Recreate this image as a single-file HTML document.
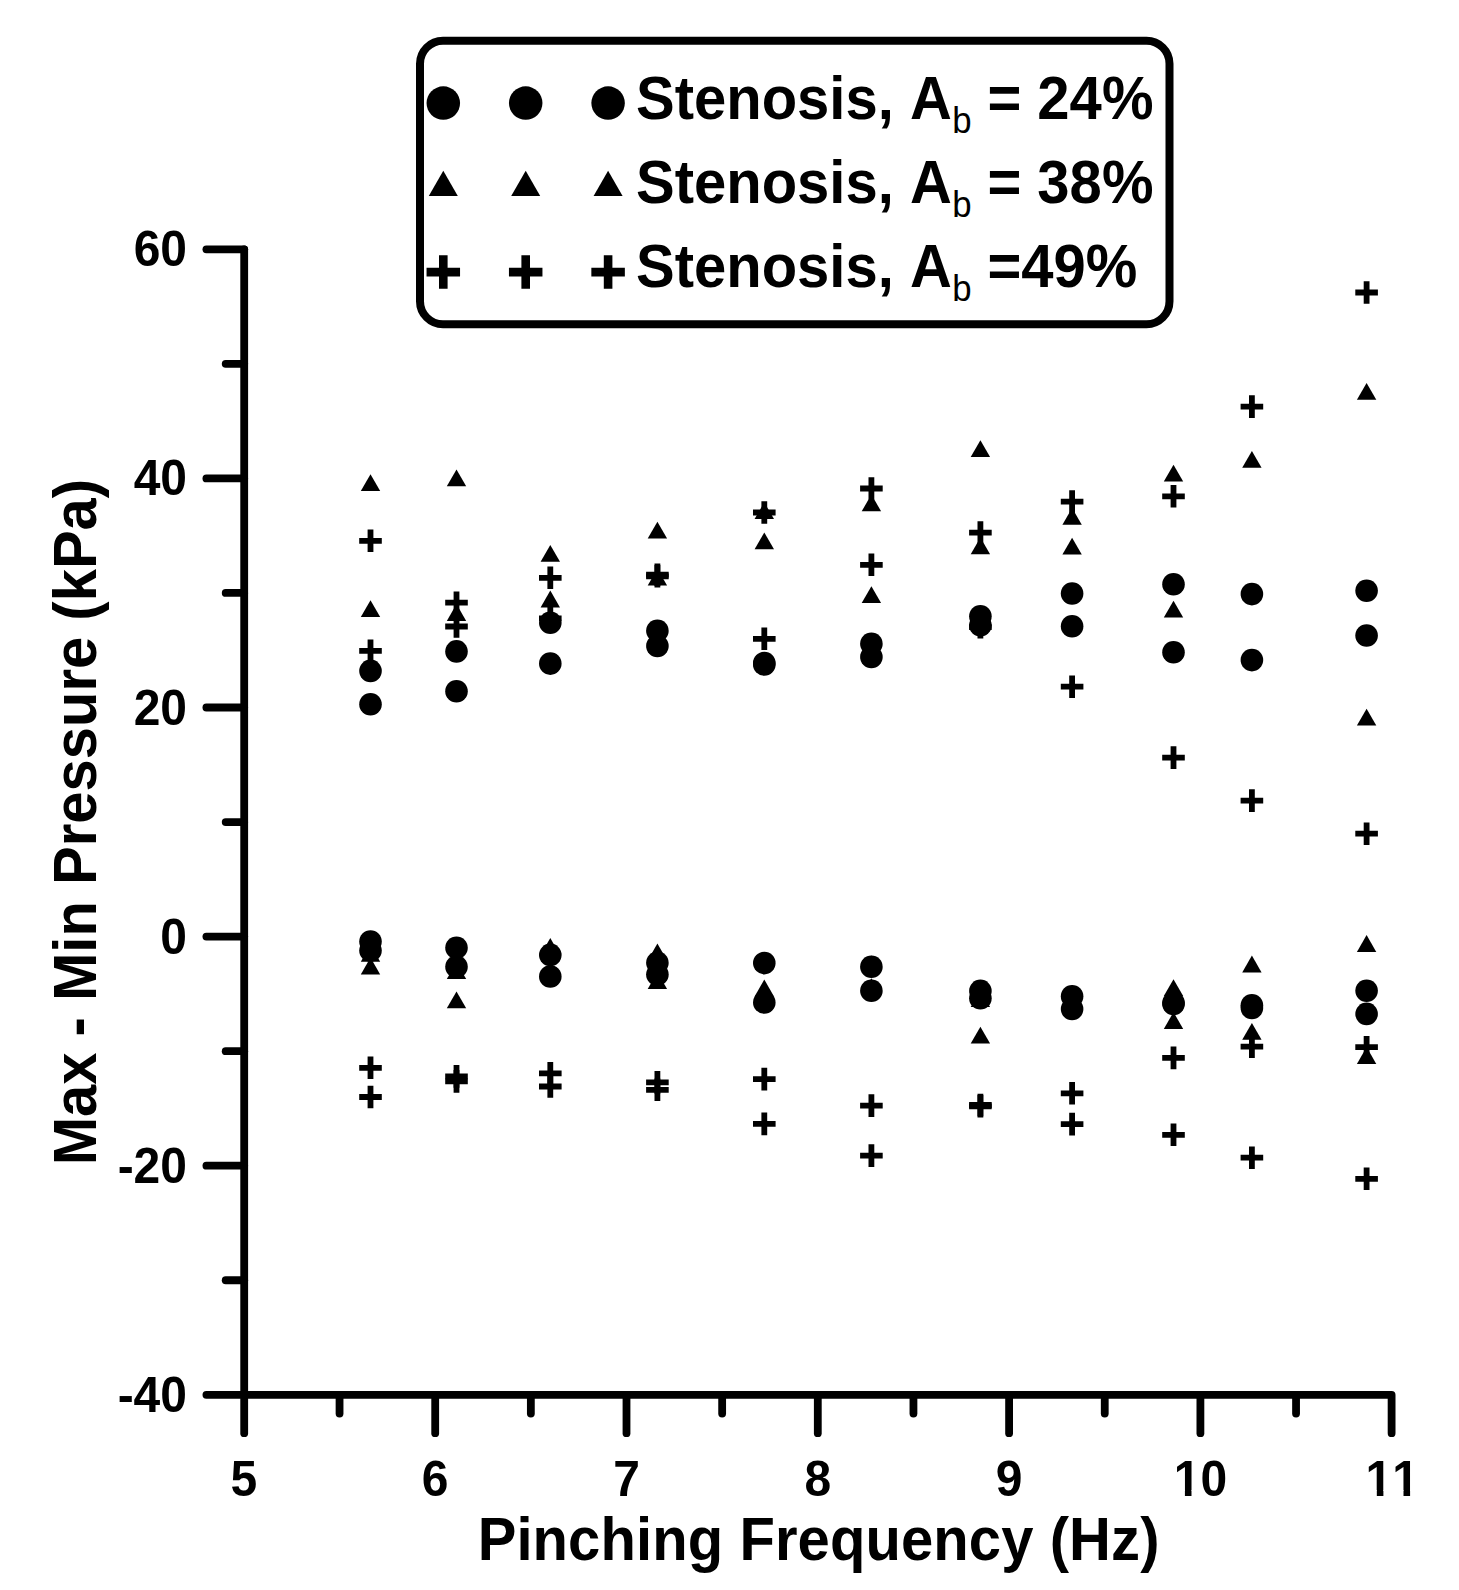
<!DOCTYPE html>
<html lang="en">
<head>
<meta charset="utf-8">
<title>Max - Min Pressure vs Pinching Frequency</title>
<style>
html,body{margin:0;padding:0;background:#fff;}
body{width:1459px;height:1590px;overflow:hidden;}
svg{display:block;}
text{font-family:"Liberation Sans",Arial,Helvetica,sans-serif;font-weight:bold;fill:#000;font-kerning:none;}
.tk{font-size:48px;}
.lb{font-size:58px;}
.sub{font-size:34.8px;font-weight:normal;}
</style>
</head>
<body>
<svg width="1459" height="1590" viewBox="0 0 1459 1590">
<rect x="0" y="0" width="1459" height="1590" fill="#fff"/>
<g stroke="#000" stroke-width="7.8" fill="none" stroke-linecap="round" stroke-linejoin="round">
<path d="M244.2 249.3V1433.2"/>
<path d="M206.4 1394.8H1391.6 V1433.2"/>
<path d="M206.4 249.3H244.2"/>
<path d="M206.4 478.4H244.2"/>
<path d="M206.4 707.5H244.2"/>
<path d="M206.4 936.6H244.2"/>
<path d="M206.4 1165.7H244.2"/>
<path d="M225.7 363.85H244.2"/>
<path d="M225.7 592.95H244.2"/>
<path d="M225.7 822.05H244.2"/>
<path d="M225.7 1051.15H244.2"/>
<path d="M225.7 1280.25H244.2"/>
<path d="M435.2 1394.8V1433.2"/>
<path d="M626.5 1394.8V1433.2"/>
<path d="M817.8 1394.8V1433.2"/>
<path d="M1009.1 1394.8V1433.2"/>
<path d="M1200.4 1394.8V1433.2"/>
<path d="M339.55 1394.8V1413.6"/>
<path d="M530.85 1394.8V1413.6"/>
<path d="M722.15 1394.8V1413.6"/>
<path d="M913.45 1394.8V1413.6"/>
<path d="M1104.75 1394.8V1413.6"/>
<path d="M1296.05 1394.8V1413.6"/>
</g>
<g class="tk" text-anchor="end">
<text transform="translate(187 266.3) scale(1 1.035)">60</text>
<text transform="translate(187 495.4) scale(1 1.035)">40</text>
<text transform="translate(187 724.5) scale(1 1.035)">20</text>
<text transform="translate(187 953.6) scale(1 1.035)">0</text>
<text transform="translate(187 1182.7) scale(1 1.035)">-20</text>
<text transform="translate(187 1411.8) scale(1 1.035)">-40</text>
</g>
<g class="tk" text-anchor="middle">
<text transform="translate(243.9 1495.6) scale(1 1.035)">5</text>
<text transform="translate(435.2 1495.6) scale(1 1.035)">6</text>
<text transform="translate(626.5 1495.6) scale(1 1.035)">7</text>
<text transform="translate(817.8 1495.6) scale(1 1.035)">8</text>
<text transform="translate(1009.1 1495.6) scale(1 1.035)">9</text>
<text transform="translate(1200.4 1495.6) scale(1 1.035)">10</text>
<text transform="translate(1392.3 1495.6) scale(1 1.035)">11</text>
</g>
<rect x="1175.53" y="1490.13" width="9.38" height="7.5" fill="#fff"/>
<rect x="1191.49" y="1490.13" width="8.77" height="7.5" fill="#fff"/>
<rect x="1367.43" y="1490.13" width="9.38" height="7.5" fill="#fff"/>
<rect x="1383.39" y="1490.13" width="8.77" height="7.5" fill="#fff"/>
<rect x="1394.12" y="1490.13" width="9.38" height="7.5" fill="#fff"/>
<rect x="1410.09" y="1490.13" width="8.77" height="7.5" fill="#fff"/>
<text class="lb" text-anchor="middle" letter-spacing="0.09" transform="translate(818.6 1559.8) scale(1 1.055)">Pinching Frequency (Hz)</text>
<text class="lb" text-anchor="middle" transform="translate(95.6 822.1) rotate(-90) scale(1 1.055)">Max - Min Pressure (kPa)</text>
<g fill="#000">
<path d="M359.2 540.8H381.8M370.5 529.5V552.1" stroke="#000" stroke-width="5.8" fill="none"/>
<path d="M359.2 650.8H381.8M370.5 639.5V662.1" stroke="#000" stroke-width="5.8" fill="none"/>
<path d="M359.2 1067.8H381.8M370.5 1056.5V1079.1" stroke="#000" stroke-width="5.8" fill="none"/>
<path d="M359.2 1097H381.8M370.5 1085.7V1108.3" stroke="#000" stroke-width="5.8" fill="none"/>
<polygon points="370.5,474.3 380.2,491.1 360.8,491.1"/>
<polygon points="370.5,600.2 380.2,617 360.8,617"/>
<polygon points="370.5,944.9 380.2,961.7 360.8,961.7"/>
<polygon points="370.5,957.6 380.2,974.4 360.8,974.4"/>
<circle cx="370.5" cy="670.9" r="11.3"/>
<circle cx="370.5" cy="704.2" r="11.3"/>
<circle cx="370.5" cy="941.5" r="11.3"/>
<circle cx="370.5" cy="950.4" r="11.3"/>
<path d="M445.2 602.7H467.8M456.5 591.4V614" stroke="#000" stroke-width="5.8" fill="none"/>
<path d="M445.2 626.5H467.8M456.5 615.2V637.8" stroke="#000" stroke-width="5.8" fill="none"/>
<path d="M445.2 1076.4H467.8M456.5 1065.1V1087.7" stroke="#000" stroke-width="5.8" fill="none"/>
<path d="M445.2 1081.4H467.8M456.5 1070.1V1092.7" stroke="#000" stroke-width="5.8" fill="none"/>
<polygon points="456.5,469.5 466.2,486.3 446.8,486.3"/>
<polygon points="456.5,604.1 466.2,620.9 446.8,620.9"/>
<polygon points="456.5,962.3 466.2,979.1 446.8,979.1"/>
<polygon points="456.5,991.4 466.2,1008.2 446.8,1008.2"/>
<circle cx="456.5" cy="651.4" r="11.3"/>
<circle cx="456.5" cy="691.3" r="11.3"/>
<circle cx="456.5" cy="947.7" r="11.3"/>
<circle cx="456.5" cy="966.8" r="11.3"/>
<path d="M539 577.8H561.6M550.3 566.5V589.1" stroke="#000" stroke-width="5.8" fill="none"/>
<path d="M539 618.3H561.6M550.3 607V629.6" stroke="#000" stroke-width="5.8" fill="none"/>
<path d="M539 1073.3H561.6M550.3 1062V1084.6" stroke="#000" stroke-width="5.8" fill="none"/>
<path d="M539 1086.5H561.6M550.3 1075.2V1097.8" stroke="#000" stroke-width="5.8" fill="none"/>
<polygon points="550.3,544.9 560,561.7 540.6,561.7"/>
<polygon points="550.3,590.6 560,607.4 540.6,607.4"/>
<polygon points="550.3,938.1 560,954.9 540.6,954.9"/>
<polygon points="550.3,965.3 560,982.1 540.6,982.1"/>
<circle cx="550.3" cy="622.8" r="11.3"/>
<circle cx="550.3" cy="663.6" r="11.3"/>
<circle cx="550.3" cy="954.9" r="11.3"/>
<circle cx="550.3" cy="976.5" r="11.3"/>
<path d="M646.1 574.7H668.7M657.4 563.4V586" stroke="#000" stroke-width="5.8" fill="none"/>
<path d="M646.1 576.3H668.7M657.4 565V587.6" stroke="#000" stroke-width="5.8" fill="none"/>
<path d="M646.1 1082.4H668.7M657.4 1071.1V1093.7" stroke="#000" stroke-width="5.8" fill="none"/>
<path d="M646.1 1089.8H668.7M657.4 1078.5V1101.1" stroke="#000" stroke-width="5.8" fill="none"/>
<polygon points="657.4,521.7 667.1,538.5 647.7,538.5"/>
<polygon points="657.4,568.8 667.1,585.6 647.7,585.6"/>
<polygon points="657.4,943.6 667.1,960.4 647.7,960.4"/>
<polygon points="657.4,972.2 667.1,989 647.7,989"/>
<circle cx="657.4" cy="630.8" r="11.3"/>
<circle cx="657.4" cy="646" r="11.3"/>
<circle cx="657.4" cy="962.7" r="11.3"/>
<circle cx="657.4" cy="974.4" r="11.3"/>
<path d="M753 512.5H775.6M764.3 501.2V523.8" stroke="#000" stroke-width="5.8" fill="none"/>
<path d="M753 638.8H775.6M764.3 627.5V650.1" stroke="#000" stroke-width="5.8" fill="none"/>
<path d="M753 1079.1H775.6M764.3 1067.8V1090.4" stroke="#000" stroke-width="5.8" fill="none"/>
<path d="M753 1123.9H775.6M764.3 1112.6V1135.2" stroke="#000" stroke-width="5.8" fill="none"/>
<polygon points="764.3,502.3 774,519.1 754.6,519.1"/>
<polygon points="764.3,532.4 774,549.2 754.6,549.2"/>
<polygon points="764.3,979.6 774,996.4 754.6,996.4"/>
<polygon points="764.3,983.8 774,1000.6 754.6,1000.6"/>
<circle cx="764.3" cy="663.1" r="11.3"/>
<circle cx="764.3" cy="664.5" r="11.3"/>
<circle cx="764.3" cy="963.1" r="11.3"/>
<circle cx="764.3" cy="1002.4" r="11.3"/>
<path d="M860.1 488.5H882.7M871.4 477.2V499.8" stroke="#000" stroke-width="5.8" fill="none"/>
<path d="M860.1 564.8H882.7M871.4 553.5V576.1" stroke="#000" stroke-width="5.8" fill="none"/>
<path d="M860.1 1105.6H882.7M871.4 1094.3V1116.9" stroke="#000" stroke-width="5.8" fill="none"/>
<path d="M860.1 1155.6H882.7M871.4 1144.3V1166.9" stroke="#000" stroke-width="5.8" fill="none"/>
<polygon points="871.4,494.5 881.1,511.3 861.7,511.3"/>
<polygon points="871.4,586.3 881.1,603.1 861.7,603.1"/>
<polygon points="871.4,955.6 881.1,972.4 861.7,972.4"/>
<polygon points="871.4,978.3 881.1,995.1 861.7,995.1"/>
<circle cx="871.4" cy="643.8" r="11.3"/>
<circle cx="871.4" cy="656.9" r="11.3"/>
<circle cx="871.4" cy="966.8" r="11.3"/>
<circle cx="871.4" cy="990.7" r="11.3"/>
<path d="M969.1 532.6H991.7M980.4 521.3V543.9" stroke="#000" stroke-width="5.8" fill="none"/>
<path d="M969.1 627.2H991.7M980.4 615.9V638.5" stroke="#000" stroke-width="5.8" fill="none"/>
<path d="M969.1 1105H991.7M980.4 1093.7V1116.3" stroke="#000" stroke-width="5.8" fill="none"/>
<path d="M969.1 1106.3H991.7M980.4 1095V1117.6" stroke="#000" stroke-width="5.8" fill="none"/>
<polygon points="980.4,440.2 990.1,457 970.7,457"/>
<polygon points="980.4,537.4 990.1,554.2 970.7,554.2"/>
<polygon points="980.4,990.1 990.1,1006.9 970.7,1006.9"/>
<polygon points="980.4,1026.8 990.1,1043.6 970.7,1043.6"/>
<circle cx="980.4" cy="616.3" r="11.3"/>
<circle cx="980.4" cy="625.2" r="11.3"/>
<circle cx="980.4" cy="990.9" r="11.3"/>
<circle cx="980.4" cy="998.3" r="11.3"/>
<path d="M1060.8 501.6H1083.4M1072.1 490.3V512.9" stroke="#000" stroke-width="5.8" fill="none"/>
<path d="M1060.8 686.7H1083.4M1072.1 675.4V698" stroke="#000" stroke-width="5.8" fill="none"/>
<path d="M1060.8 1093.3H1083.4M1072.1 1082V1104.6" stroke="#000" stroke-width="5.8" fill="none"/>
<path d="M1060.8 1124.1H1083.4M1072.1 1112.8V1135.4" stroke="#000" stroke-width="5.8" fill="none"/>
<polygon points="1072.1,508 1081.8,524.8 1062.4,524.8"/>
<polygon points="1072.1,537.7 1081.8,554.5 1062.4,554.5"/>
<polygon points="1072.1,985 1081.8,1001.8 1062.4,1001.8"/>
<polygon points="1072.1,997.8 1081.8,1014.6 1062.4,1014.6"/>
<circle cx="1072.1" cy="593.5" r="11.3"/>
<circle cx="1072.1" cy="626.2" r="11.3"/>
<circle cx="1072.1" cy="996.2" r="11.3"/>
<circle cx="1072.1" cy="1009" r="11.3"/>
<path d="M1162.2 496.3H1184.8M1173.5 485V507.6" stroke="#000" stroke-width="5.8" fill="none"/>
<path d="M1162.2 757.6H1184.8M1173.5 746.3V768.9" stroke="#000" stroke-width="5.8" fill="none"/>
<path d="M1162.2 1057.9H1184.8M1173.5 1046.6V1069.2" stroke="#000" stroke-width="5.8" fill="none"/>
<path d="M1162.2 1134.8H1184.8M1173.5 1123.5V1146.1" stroke="#000" stroke-width="5.8" fill="none"/>
<polygon points="1173.5,464.7 1183.2,481.5 1163.8,481.5"/>
<polygon points="1173.5,600.7 1183.2,617.5 1163.8,617.5"/>
<polygon points="1173.5,979.2 1183.2,996 1163.8,996"/>
<polygon points="1173.5,1012.1 1183.2,1028.9 1163.8,1028.9"/>
<circle cx="1173.5" cy="584.2" r="11.3"/>
<circle cx="1173.5" cy="652.3" r="11.3"/>
<circle cx="1173.5" cy="1002.8" r="11.3"/>
<circle cx="1173.5" cy="1004" r="11.3"/>
<path d="M1240.6 406.6H1263.2M1251.9 395.3V417.9" stroke="#000" stroke-width="5.8" fill="none"/>
<path d="M1240.6 800.6H1263.2M1251.9 789.3V811.9" stroke="#000" stroke-width="5.8" fill="none"/>
<path d="M1240.6 1046.6H1263.2M1251.9 1035.3V1057.9" stroke="#000" stroke-width="5.8" fill="none"/>
<path d="M1240.6 1157.7H1263.2M1251.9 1146.4V1169" stroke="#000" stroke-width="5.8" fill="none"/>
<polygon points="1251.9,450.9 1261.6,467.7 1242.2,467.7"/>
<polygon points="1251.9,582.9 1261.6,599.7 1242.2,599.7"/>
<polygon points="1251.9,955.6 1261.6,972.4 1242.2,972.4"/>
<polygon points="1251.9,1023 1261.6,1039.8 1242.2,1039.8"/>
<circle cx="1251.9" cy="594.1" r="11.3"/>
<circle cx="1251.9" cy="660.1" r="11.3"/>
<circle cx="1251.9" cy="1005.3" r="11.3"/>
<circle cx="1251.9" cy="1008" r="11.3"/>
<path d="M1355.3 292.5H1377.9M1366.6 281.2V303.8" stroke="#000" stroke-width="5.8" fill="none"/>
<path d="M1355.3 833.7H1377.9M1366.6 822.4V845" stroke="#000" stroke-width="5.8" fill="none"/>
<path d="M1355.3 1047.2H1377.9M1366.6 1035.9V1058.5" stroke="#000" stroke-width="5.8" fill="none"/>
<path d="M1355.3 1178.8H1377.9M1366.6 1167.5V1190.1" stroke="#000" stroke-width="5.8" fill="none"/>
<polygon points="1366.6,383 1376.3,399.8 1356.9,399.8"/>
<polygon points="1366.6,708.8 1376.3,725.6 1356.9,725.6"/>
<polygon points="1366.6,935.1 1376.3,951.9 1356.9,951.9"/>
<polygon points="1366.6,1047.1 1376.3,1063.9 1356.9,1063.9"/>
<circle cx="1366.6" cy="590.8" r="11.3"/>
<circle cx="1366.6" cy="635.5" r="11.3"/>
<circle cx="1366.6" cy="990.7" r="11.3"/>
<circle cx="1366.6" cy="1013.9" r="11.3"/>
</g>
<rect x="420" y="40.8" width="749.5" height="283.4" rx="23" ry="23" fill="#fff" stroke="#000" stroke-width="8"/>
<g fill="#000">
<circle cx="443.3" cy="103.1" r="16.75"/>
<polygon points="443.3,170.85 457.81,195.97 428.79,195.97"/>
<path d="M426.55 272.1H460.05M443.3 255.35V288.85" stroke="#000" stroke-width="8.6" fill="none"/>
<circle cx="525.7" cy="103.1" r="16.75"/>
<polygon points="525.7,170.85 540.21,195.97 511.19,195.97"/>
<path d="M508.95 272.1H542.45M525.7 255.35V288.85" stroke="#000" stroke-width="8.6" fill="none"/>
<circle cx="608.1" cy="103.1" r="16.75"/>
<polygon points="608.1,170.85 622.61,195.97 593.59,195.97"/>
<path d="M591.35 272.1H624.85M608.1 255.35V288.85" stroke="#000" stroke-width="8.6" fill="none"/>
</g>
<text class="lb" transform="translate(0 118.5) scale(1 1.055)" xml:space="preserve"><tspan x="636">Stenosis, A</tspan><tspan class="sub" x="952.3" dy="13.5">b</tspan><tspan x="987.4" dy="-13.5">= 24%</tspan></text>
<text class="lb" transform="translate(0 202.8) scale(1 1.055)" xml:space="preserve"><tspan x="636">Stenosis, A</tspan><tspan class="sub" x="952.3" dy="13.5">b</tspan><tspan x="987.4" dy="-13.5">= 38%</tspan></text>
<text class="lb" transform="translate(0 286.9) scale(1 1.055)" xml:space="preserve"><tspan x="636">Stenosis, A</tspan><tspan class="sub" x="952.3" dy="13.5">b</tspan><tspan x="987.4" dy="-13.5">=49%</tspan></text>
</svg>
</body>
</html>
